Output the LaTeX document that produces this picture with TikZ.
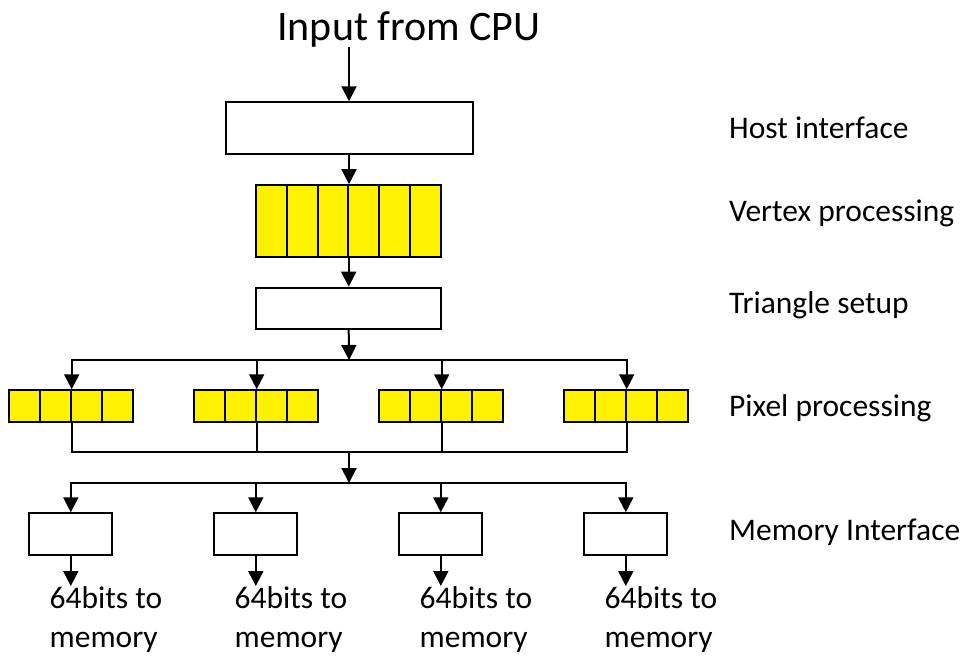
\documentclass[tikz,border=0pt]{standalone}
\usepackage{fontspec}
\setmainfont{Carlito}
\usetikzlibrary{arrows.meta, positioning}
\tikzset{
	block/.style={rectangle, draw, line width=2pt, fill=white, inner sep=0pt},
	cell/.style={rectangle, draw, line width=2pt, fill=yellow, inner sep=0pt, minimum width=31pt, minimum height=31.5pt},
	line/.style={draw, line width=2pt, -{Triangle[length=15pt, width=15pt]}},
	bus/.style={draw, line width=2pt, line cap=rect},
	lbl/.style={font=\fontsize{31.5}{39}\selectfont, anchor=base west, inner sep=0pt}
}

\begin{document}
\begin{tikzpicture}[x=1pt, y=-1pt]
	\useasboundingbox (0,0) rectangle (974,665);

	% Input from the CPU and host interface
	\node[font=\fontsize{42}{50}\selectfont, anchor=base, inner sep=0pt] (cpu) at (409,40) {Input from CPU};
	\node[block, minimum width=247pt, minimum height=51.5pt] (host) at (349,128) {};
	\path[line] (cpu.south -| host.north) -- (host.north);

	% Vertex processing (yellow cells)
	\foreach \c in {0,...,5}
		\node[cell, minimum width=30.83pt, minimum height=71.7pt] (v\c) at ({256+30.83*(\c+0.5)},221) {};
	\path[line] (host.south) -- (host.south |- v2.north);

	% Triangle setup
	\node[block, minimum width=185.3pt, minimum height=41.3pt] (tri) at (348.7,308.3) {};
	\path[line] (tri.north |- v2.south) -- (tri.north);

	% Split to the pixel processors
	\coordinate (split) at (349,360);
	\path[line] (tri.south) -- (split);
	\foreach \g in {0,...,3}
		\foreach \c in {0,...,3}
			\node[cell] (p\g\c) at ({8.7+185*\g+31*(\c+0.5)},406) {};
	\draw[bus] (p01.north east |- split) -- (p31.north east |- split);
	\foreach \g in {0,...,3}
		\path[line] (p\g1.north east |- split) -- (p\g1.north east);

	% Merge back
	\coordinate (merge) at (349,452);
	\draw[bus] (p01.south east) |- (p31.south east |- merge) -- (p31.south east);
	\foreach \g in {1,2}
		\draw[bus] (p\g1.south east) -- (p\g1.south east |- merge);

	% Fan out to the memory interfaces
	\coordinate (fan) at (349,483);
	\path[line] (merge) -- (fan);
	\foreach \g in {0,...,3} {
		\node[block, minimum width=83pt, minimum height=42pt] (m\g) at ({70.8+185*\g},534.3) {};
		\node[font=\fontsize{31.5}{39}\selectfont, anchor=north west, align=left, inner sep=0pt] (out\g) at ({49.5+185*\g},586) {64bits to\\memory};
		\path[line] (m\g.north |- fan) -- (m\g.north);
		\path[line] (m\g.south) -- (m\g.south |- out\g.north);
	}
	\draw[bus] (m0.north |- fan) -- (m3.north |- fan);

	% Stage labels
	\node[lbl] (hostlbl) at (729,138) {Host interface};
	\node[lbl] (vertlbl) at (729,221) {Vertex processing};
	\node[lbl] (trilbl) at (729,313) {Triangle setup};
	\node[lbl] (pixlbl) at (729,416) {Pixel processing};
	\node[lbl] (memlbl) at (729,540) {Memory Interface};
\end{tikzpicture}
\end{document}
